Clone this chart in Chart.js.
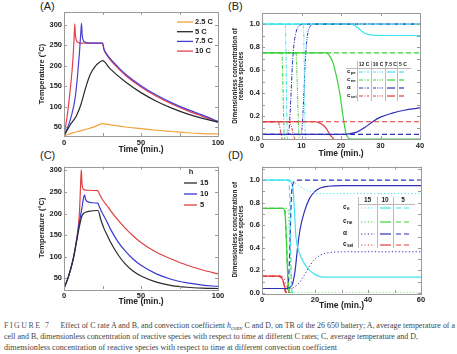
<!DOCTYPE html>
<html>
<head>
<meta charset="utf-8">
<script src="https://cdn.jsdelivr.net/npm/chart.js@4.4.1/dist/chart.umd.min.js"></script>
<style>
body{margin:0;background:#fff;width:457px;height:354px;overflow:hidden;position:relative}
canvas{position:absolute}
.lab{position:absolute;font:11px "Liberation Sans",Arial,sans-serif;color:#222}
.cap{position:absolute;left:4px;font:8px "Liberation Serif","Times New Roman",serif;color:#444;white-space:nowrap;transform-origin:0 0}
.cap .fig{letter-spacing:1.5px;color:#556;margin-right:10px}
</style>
</head>
<body>
<div class="lab" style="left:40px;top:0px">(A)</div>
<div class="lab" style="left:228px;top:0px">(B)</div>
<div class="lab" style="left:40px;top:149px">(C)</div>
<div class="lab" style="left:228px;top:149px">(D)</div>
<canvas id="cA" width="228" height="160" style="left:0;top:0"></canvas>
<canvas id="cB" width="232" height="160" style="left:225px;top:0"></canvas>
<canvas id="cC" width="228" height="150" style="left:0;top:160px"></canvas>
<canvas id="cD" width="232" height="152" style="left:225px;top:160px"></canvas>
<div class="cap" id="l1" data-w="451" style="top:321px"><span class="fig">FIGURE 7</span>Effect of C rate A and B, and convection coefficient <i>h</i><span style="font-size:6px;position:relative;top:2px">conv</span> C and D, on TR of the 26 650 battery; A, average temperature of a</div>
<div class="cap" id="l2" data-w="414" style="top:332px">cell and B, dimensionless concentration of reactive species with respect to time at different C rates; C, average temperature and D,</div>
<div class="cap" id="l3" data-w="333" style="top:343px">dimensionless concentration of reactive species with respect to time at different convection coefficient</div>
<script>
// ---- panel A: temperature vs time at different C rates
const a25C = [[0,28],[5,35],[10,40],[15,45],[20,51],[25,58],[30,55],[40,50],[50,46],[60,42],[70,39],[80,36],[90,34],[100,33]];
const a5C = [[0,28],[4,55],[8,77],[11,105],[14,145],[17,178],[20,197],[23,208],[25,212],[30,192],[40,160],[50,134],[60,113],[70,96],[80,82],[90,71],[100,62]];
const a75C = [[0,28],[3,55],[5,80],[7,115],[8,145],[9,185],[10,230],[11,285],[11.4,303],[11.8,275],[12.5,262],[14,257],[16,255],[25,255],[26,240],[28,227],[30,217],[35,197],[40,179],[50,151],[60,128],[70,109],[80,93],[90,79],[100,64]];
const a10C = [[0,28],[2,75],[4,140],[5.5,200],[6.5,262],[7,302],[7.4,275],[8,262],[9,257],[11,255],[25,255],[26,238],[28,225],[30,214],[35,194],[40,176],[50,148],[60,125],[70,106],[80,90],[90,76],[100,62]];
const aLabels = ['2.5 C', '5 C', '7.5 C', '10 C'];

// ---- panel B: dimensionless concentration at different C rates
const b12Cpe = [[0,1],[5.9,1],[6.05,0.8],[6.2,0.4],[6.35,0.1],[6.5,0]];
const b12Cne = [[0,0.75],[5.0,0.75],[5.2,0.6],[5.4,0.3],[5.6,0.05],[5.8,0]];
const b12Alpha = [[0,0.04],[6.5,0.04],[6.9,0.1],[7.3,0.35],[7.7,0.65],[8.2,0.85],[8.8,0.95],[9.6,0.99],[10.5,1],[40,1]];
const b12Csei = [[0,0.15],[4.0,0.15],[4.4,0.12],[4.8,0.05],[5.1,0]];
const b10Cpe = [[0,1],[10.5,1],[10.7,0.6],[10.9,0.1],[11.0,0]];
const b10Cne = [[0,0.75],[8.6,0.75],[8.9,0.5],[9.2,0.15],[9.4,0]];
const b10Alpha = [[0,0.04],[9.8,0.04],[10.2,0.12],[10.6,0.4],[11.0,0.7],[11.5,0.9],[12.2,0.98],[13,1],[40,1]];
const b10Csei = [[0,0.15],[7.0,0.15],[7.5,0.1],[8.0,0.03],[8.3,0]];
const b75Cpe = [[0,1],[22,1],[23,0.995],[24,0.975],[25,0.945],[26,0.92],[27,0.908],[29,0.902],[40,0.9]];
const b75Cne = [[0,0.75],[16.3,0.75],[17,0.73],[18,0.66],[19,0.52],[19.8,0.375],[20.5,0.2],[21.2,0.06],[22,0.005],[23,0],[40,0]];
const b75Alpha = [[0,0.04],[20,0.04],[22,0.045],[24,0.06],[26,0.1],[28,0.15],[30,0.19],[33,0.225],[36,0.25],[40,0.27]];
const b75Csei = [[0,0.15],[13.5,0.15],[14.5,0.14],[15.5,0.12],[16.3,0.09],[17,0.05],[17.6,0.02],[18.2,0]];
const b5Cpe = [[0,1],[40,1]];
const b5Cne = [[0,0.75],[40,0.75]];
const b5Alpha = [[0,0.04],[40,0.04]];
const b5Csei = [[0,0.15],[40,0.15]];
const bCols = ['12 C', '10 C', '7.5 C', '5 C'];

// ---- panel C: temperature vs time at different h
const c15 = [[0,26],[3,55],[6,95],[8,132],[10,170],[11.5,193],[13,201],[16,205],[22,207],[24,185],[26,165],[28,150],[30,135],[35,105],[40,82],[45,66],[50,55],[60,41],[70,33],[80,29],[90,27],[100,26]];
const c10 = [[0,26],[3,55],[6,95],[8,135],[10,180],[11.5,210],[12.8,238],[13.4,243],[14,233],[15.5,227],[18,225],[22,224],[23,215],[25,200],[28,180],[30,165],[35,135],[40,112],[45,94],[50,80],[60,60],[70,47],[80,39],[90,34],[100,31]];
const c5 = [[0,26],[3,55],[6,95],[8,135],[10,200],[10.7,260],[11.2,302],[11.7,268],[12.5,257],[14,254],[22,253],[23,245],[25,232],[28,218],[30,208],[35,185],[40,165],[45,148],[50,133],[60,110],[70,94],[80,80],[90,69],[100,60]];
const cLabels = ['15', '10', '5'];

// ---- panel D: dimensionless concentration at different h
const d15Ce = [[0,1],[11,1],[12,0.98],[14,0.95],[16,0.92],[18,0.9],[20,0.885],[23,0.88],[60,0.88]];
const d15Cne = [[0,0.75],[9.5,0.75],[10,0.7],[10.5,0.4],[11,0.1],[11.5,0],[60,0]];
const d15Alpha = [[0,0.04],[11,0.04],[12,0.05],[14,0.09],[16,0.16],[18,0.24],[20,0.3],[22,0.335],[25,0.355],[30,0.365],[60,0.365]];
const d15Csei = [[0,0.15],[7.5,0.15],[8.5,0.12],[9.3,0.05],[10,0]];
const d10Ce = [[0,1],[10,1],[11,0.98],[11.8,0.9],[12.3,0.7],[12.8,0.5],[13.5,0.4],[14.5,0.33],[16,0.26],[18,0.2],[20,0.165],[22,0.145],[25,0.14],[60,0.14]];
const d10Cne = [[0,0.75],[8,0.75],[8.7,0.7],[9.3,0.4],[9.8,0.1],[10.3,0.01],[11,0]];
const d10Alpha = [[0,0.04],[9,0.04],[10.5,0.05],[11.5,0.08],[12.5,0.2],[13.5,0.42],[14.5,0.58],[16,0.72],[18,0.84],[20,0.9],[22,0.93],[25,0.945],[30,0.95],[60,0.95]];
const d10Csei = [[0,0.15],[6,0.15],[7,0.14],[7.8,0.12],[8.4,0.07],[8.9,0.02],[9.3,0]];
const d5Ce = [[0,1],[10,1],[10.4,0.9],[10.8,0.4],[11.2,0.05],[11.5,0]];
const d5Cne = [[0,0.75],[8.5,0.75],[9,0.6],[9.5,0.3],[10,0.05],[10.3,0]];
const d5Alpha = [[0,0.04],[9.5,0.04],[10,0.1],[10.5,0.4],[11,0.8],[11.5,0.95],[12.5,0.99],[14,1],[60,1]];
const d5Csei = [[0,0.15],[7,0.15],[8,0.1],[8.7,0.02],[9,0]];
const dCols = ['15', '10', '5'];

// tick values
const tempXTicks = [0, 50, 100];
const tempYTicks = [50, 100, 150, 200, 250, 300];
const bXTicks = [0, 10, 20, 30, 40];
const dXTicks = [0, 20, 40, 60];
const concYTicks = [0, 0.2, 0.4, 0.6, 0.8, 1.0];

const FONT = '"Liberation Sans", Arial, sans-serif';
Chart.defaults.font.family = FONT;
Chart.defaults.color = '#222';
Chart.defaults.animation = false;

const CYAN = '#3fe3f0', GREEN = '#3ad03a', BLUE = '#2f2fb8', RED = '#e03a3a';
const DASHDOT = [4, 1.5, 1, 1.5], DASHDOTDOT = [3, 1.2, 1, 1.2, 1, 1.2], DASHED = [5, 3], DOTTED = [1.2, 2.2];

function line(data, color, dash, width) {
    return {
        data: data.map(p => ({x: p[0], y: p[1]})),
        borderColor: color,
        borderDash: dash || [],
        borderWidth: width || 1.2,
        pointRadius: 0,
        fill: false,
        cubicInterpolationMode: 'monotone'
    };
}

function subLabel(ctx, x, y, main, sub, size) {
    ctx.font = 'bold ' + size + 'px ' + FONT;
    ctx.textAlign = 'left';
    ctx.textBaseline = 'middle';
    ctx.fillText(main, x, y);
    if (sub) {
        const w = ctx.measureText(main).width;
        ctx.font = 'bold ' + (size * 0.72) + 'px ' + FONT;
        ctx.fillText(sub, x + w + 0.3, y + size * 0.32);
    }
}

function seg(ctx, x1, x2, y, color, dash, w) {
    ctx.beginPath();
    ctx.setLineDash(dash);
    ctx.strokeStyle = color;
    ctx.lineWidth = w || 1.3;
    ctx.moveTo(x1, y);
    ctx.lineTo(x2, y);
    ctx.stroke();
    ctx.setLineDash([]);
}

// frame with inward ticks, axis titles and a legend drawn by the panel
function frame(xt, yt, titles, legend) {
    return {
        id: 'frame',
        afterDraw(chart) {
            const {ctx, chartArea: a} = chart;
            const x = chart.scales.x, y = chart.scales.y;
            ctx.save();
            ctx.strokeStyle = '#9a9a9a';
            ctx.lineWidth = 1;
            ctx.strokeRect(Math.round(a.left) + 0.5, Math.round(a.top) + 0.5, Math.round(a.right - a.left), Math.round(a.bottom - a.top));
            ctx.beginPath();
            xt.forEach(v => {
                const p = Math.round(x.getPixelForValue(v)) + 0.5;
                ctx.moveTo(p, a.bottom); ctx.lineTo(p, a.bottom - 3);
                ctx.moveTo(p, a.top); ctx.lineTo(p, a.top + 3);
            });
            yt.forEach(v => {
                const p = Math.round(y.getPixelForValue(v)) + 0.5;
                ctx.moveTo(a.left, p); ctx.lineTo(a.left + 3, p);
                ctx.moveTo(a.right, p); ctx.lineTo(a.right - 3, p);
            });
            ctx.stroke();
            // axis titles
            ctx.fillStyle = '#222';
            ctx.textAlign = 'center'; ctx.textBaseline = 'middle';
            ctx.font = 'bold 8.5px ' + FONT;
            ctx.fillText('Time (min.)', (a.left + a.right) / 2, titles.xy);
            ctx.font = 'bold ' + titles.ys + 'px ' + FONT;
            titles.y.forEach((t, i) => {
                ctx.save();
                ctx.translate(titles.yx[i], (a.top + a.bottom) / 2);
                ctx.rotate(-Math.PI / 2);
                ctx.fillText(t, 0, 0);
                ctx.restore();
            });
            if (legend) legend(ctx);
            ctx.restore();
        }
    };
}

function axes(xmin, xmax, xt, ymin, ymax, yt, yw, xh, yfmt) {
    return {
        x: {
            type: 'linear', min: xmin, max: xmax,
            afterBuildTicks: s => { s.ticks = xt.map(v => ({value: v})); },
            afterFit: s => { s.height = xh; },
            grid: {display: false, drawTicks: false, tickLength: 0}, border: {display: false},
            ticks: {font: {size: 7.5, weight: 'bold'}, padding: 2, maxRotation: 0}
        },
        y: {
            type: 'linear', min: ymin, max: ymax,
            afterBuildTicks: s => { s.ticks = yt.map(v => ({value: v})); },
            afterFit: s => { s.width = yw; },
            grid: {display: false, drawTicks: false, tickLength: 0}, border: {display: false},
            ticks: {font: {size: 7.5, weight: 'bold'}, padding: 2, callback: yfmt}
        }
    };
}

const concTitle = ['Dimensionless concentration of', 'reactive species'];

// Panel A
new Chart(document.getElementById('cA'), {
    type: 'line',
    data: {datasets: [
        line(a25C, '#f2a33a'), line(a5C, '#2a2a2a'), line(a75C, '#4a3fd0'), line(a10C, '#e8404f')
    ]},
    options: {
        responsive: false, devicePixelRatio: 1,
        layout: {padding: {left: 34, top: 12, right: 10, bottom: 0}},
        plugins: {legend: {display: false}, tooltip: {enabled: false}},
        scales: axes(0, 100, tempXTicks, 28, 331, tempYTicks, 30, 24, v => v)
    },
    plugins: [frame([0, 25, 50, 75, 100], tempYTicks, {xy: 150, y: ['Temperature (°C)'], yx: [42], ys: 7.5}, ctx => {
        const cols = ['#f2a33a', '#2a2a2a', '#4a3fd0', '#e8404f'];
        aLabels.forEach((t, i) => {
            const yy = 22 + i * 9.7;
            seg(ctx, 177, 193, yy, cols[i], [], 1.3);
            ctx.fillStyle = '#222';
            ctx.font = 'bold 7.5px ' + FONT;
            ctx.textAlign = 'left'; ctx.textBaseline = 'middle';
            ctx.fillText(t, 195, yy);
        });
    })]
});

// Panel B
const bStyles = [DASHDOT, DASHDOTDOT, [], DASHED];
new Chart(document.getElementById('cB'), {
    type: 'line',
    data: {datasets: [
        line(b5Cpe, CYAN, DASHED), line(b5Cne, GREEN, DASHED), line(b5Alpha, BLUE, DASHED), line(b5Csei, RED, DASHED),
        line(b12Cpe, CYAN, DASHDOT, 1), line(b12Cne, GREEN, DASHDOT, 1), line(b12Alpha, BLUE, DASHDOT, 1), line(b12Csei, RED, DASHDOT, 1),
        line(b10Cpe, CYAN, DASHDOTDOT, 1), line(b10Cne, GREEN, DASHDOTDOT, 1), line(b10Alpha, BLUE, DASHDOTDOT, 1), line(b10Csei, RED, DASHDOTDOT, 1),
        line(b75Cpe, CYAN), line(b75Cne, GREEN), line(b75Alpha, BLUE), line(b75Csei, RED)
    ]},
    options: {
        responsive: false, devicePixelRatio: 1,
        layout: {padding: {left: 2, top: 13, right: 37, bottom: 0}},
        plugins: {legend: {display: false}, tooltip: {enabled: false}},
        scales: axes(0, 40, bXTicks, 0, 1.096, concYTicks, 35, 21, v => v.toFixed(1))
    },
    plugins: [frame(bXTicks, [0, 0.1, 0.2, 0.3, 0.4, 0.5, 0.6, 0.7, 0.8, 0.9, 1.0], {xy: 154, y: concTitle, yx: [10, 16.5], ys: 6.3}, ctx => {
        const sep = [132, 146, 160, 172, 184];
        const rows = [72, 80, 88, 96];
        ctx.strokeStyle = '#bbb'; ctx.lineWidth = 1;
        ctx.beginPath();
        ctx.moveTo(121, 68.5); ctx.lineTo(186, 68.5);
        sep.slice(0, 4).forEach(s => { ctx.moveTo(s + 0.5, 61); ctx.lineTo(s + 0.5, 101); });
        ctx.stroke();
        ctx.fillStyle = '#222';
        ctx.font = 'bold 5px ' + FONT; ctx.textAlign = 'center'; ctx.textBaseline = 'middle';
        bCols.forEach((t, i) => ctx.fillText(t, (sep[i] + sep[i + 1]) / 2, 65));
        const names = [['c', 'pe'], ['c', 'ne'], ['α', ''], ['c', 'sei']];
        const cols = [CYAN, GREEN, BLUE, RED];
        rows.forEach((yy, r) => {
            ctx.fillStyle = '#222';
            subLabel(ctx, 122, yy - 1, names[r][0], names[r][1], 6);
            bStyles.forEach((d, c) => seg(ctx, sep[c] + 2, sep[c + 1] - 2, yy, cols[r], d, 1.2));
        });
    })]
});

// Panel C
new Chart(document.getElementById('cC'), {
    type: 'line',
    data: {datasets: [line(c15, '#2a2a2a'), line(c10, '#3838d0'), line(c5, '#e04040')]},
    options: {
        responsive: false, devicePixelRatio: 1,
        layout: {padding: {left: 34, top: 5, right: 10, bottom: 0}},
        plugins: {legend: {display: false}, tooltip: {enabled: false}},
        scales: axes(0, 100, tempXTicks, 25, 309, tempYTicks, 30, 21, v => v)
    },
    plugins: [frame([0, 25, 50, 75, 100], tempYTicks, {xy: 142, y: ['Temperature (°C)'], yx: [42], ys: 7.5}, ctx => {
        const cols = ['#2a2a2a', '#3838d0', '#e04040'];
        ctx.fillStyle = '#222';
        ctx.font = 'bold 7.5px ' + FONT; ctx.textAlign = 'center'; ctx.textBaseline = 'middle';
        ctx.fillText('h', 191, 12);
        cLabels.forEach((t, i) => {
            const yy = 23 + i * 11;
            seg(ctx, 184, 197, yy, cols[i], [], 1.3);
            ctx.fillStyle = '#222';
            ctx.font = 'bold 7.5px ' + FONT; ctx.textAlign = 'left';
            ctx.fillText(t, 200, yy);
        });
    })]
});

// Panel D
const dStyles = [DOTTED, [], DASHED];
new Chart(document.getElementById('cD'), {
    type: 'line',
    data: {datasets: [
        line(d15Ce, CYAN, DOTTED, 1), line(d15Cne, GREEN, DOTTED, 1), line(d15Alpha, BLUE, DOTTED, 1), line(d15Csei, RED, DOTTED, 1),
        line(d5Ce, CYAN, DASHED), line(d5Cne, GREEN, DASHED), line(d5Alpha, BLUE, DASHED), line(d5Csei, RED, DASHED),
        line(d10Ce, CYAN), line(d10Cne, GREEN), line(d10Alpha, BLUE), line(d10Csei, RED)
    ]},
    options: {
        responsive: false, devicePixelRatio: 1,
        layout: {padding: {left: 2, top: 3, right: 36, bottom: 0}},
        plugins: {legend: {display: false}, tooltip: {enabled: false}},
        scales: axes(0, 60, dXTicks, 0, 1.12, concYTicks, 35, 19, v => v.toFixed(1))
    },
    plugins: [frame([0, 10, 20, 30, 40, 50, 60], [0, 0.1, 0.2, 0.3, 0.4, 0.5, 0.6, 0.7, 0.8, 0.9, 1.0, 1.1], {xy: 146, y: concTitle, yx: [10, 16.5], ys: 6.3}, ctx => {
        const sep = [133, 152, 168, 188];
        const rows = [48, 62, 74, 85];
        ctx.strokeStyle = '#bbb'; ctx.lineWidth = 1;
        ctx.beginPath();
        ctx.moveTo(133, 44.5); ctx.lineTo(190, 44.5);
        sep.slice(0, 3).forEach(s => { ctx.moveTo(s + 0.5, 37); ctx.lineTo(s + 0.5, 88); });
        ctx.stroke();
        ctx.fillStyle = '#222';
        ctx.font = 'bold 6.5px ' + FONT; ctx.textAlign = 'center'; ctx.textBaseline = 'middle';
        dCols.forEach((t, i) => ctx.fillText(t, (sep[i] + sep[i + 1]) / 2, 40));
        const names = [['c', 'e'], ['c', 'ne'], ['α', ''], ['c', 'sei']];
        const cols = [CYAN, GREEN, BLUE, RED];
        rows.forEach((yy, r) => {
            ctx.fillStyle = '#222';
            subLabel(ctx, 118, yy - 1, names[r][0], names[r][1], 6.5);
            dStyles.forEach((d, c) => seg(ctx, sep[c] + 3, sep[c + 1] - 2, yy, cols[r], d, 1.2));
        });
    })]
});

// stretch caption lines to the reference widths
['l1', 'l2', 'l3'].forEach(id => {
    const el = document.getElementById(id);
    const w = el.getBoundingClientRect().width;
    el.style.transform = 'scaleX(' + (parseFloat(el.dataset.w) / w) + ')';
});
</script>
</body>
</html>
